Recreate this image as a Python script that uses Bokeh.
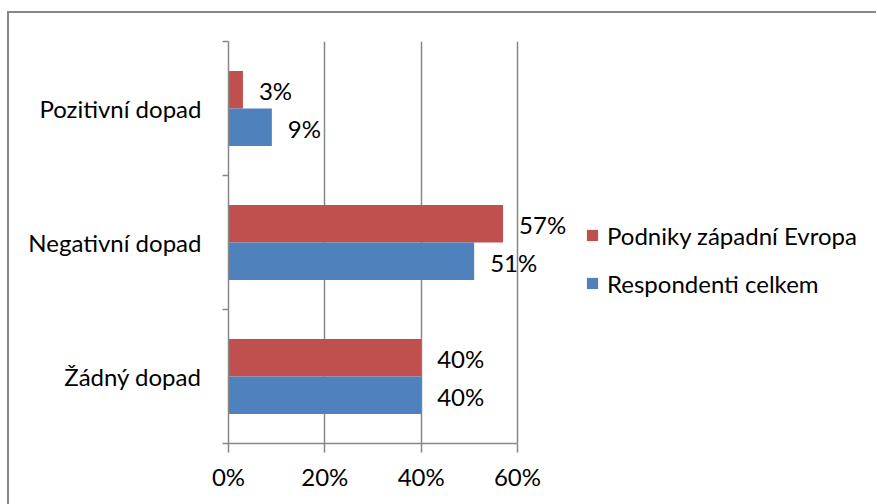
from bokeh.plotting import figure
from bokeh.models import ColumnDataSource, Range1d, FixedTicker, Legend, LegendItem
from bokeh.core.properties import value
from bokeh.embed import file_html
from bokeh.resources import INLINE

# Survey answers (share of respondents, %)
categories = ["Pozitivní dopad", "Negativní dopad", "Žádný dopad"]
podniky_zapadni_evropa = [3, 57, 40]
respondenti_celkem = [9, 51, 40]
series_names = ["Podniky západní Evropa", "Respondenti celkem"]
x_ticks = [0, 20, 40, 60]
x_tick_labels = ["0%", "20%", "40%", "60%"]

RED = "#C0504D"
BLUE = "#4F81BD"
GRID = "#878787"
FONT = "Lato"
FS = "24px"

n = len(categories)
centers = [n - i - 0.5 for i in range(n)]
bar_h = 0.28

# Plot geometry (pixels)
frame_w, frame_h = 648, 402
axis_px = 289  # pixels spanned by 0..60 %
x_max = x_ticks[-1] * frame_w / axis_px

p = figure(
    frame_width=frame_w, frame_height=frame_h,
    min_border_left=219, min_border_top=28, min_border_bottom=61, min_border_right=0,
    x_range=Range1d(0, x_max), y_range=Range1d(0, n),
    output_backend="svg", toolbar_location=None,
)
p.outline_line_color = None
p.background_fill_color = "white"
p.border_fill_color = "white"
p.styles = {
    "margin-left": "7px",
    "margin-top": "11px",
    "border-left": "2px solid #878787",
    "border-top": "2px solid #878787",
}

red_src = ColumnDataSource(dict(
    y=[c + bar_h / 2 for c in centers],
    v=podniky_zapadni_evropa,
    t=[f"{v}%" for v in podniky_zapadni_evropa],
))
blue_src = ColumnDataSource(dict(
    y=[c - bar_h / 2 for c in centers],
    v=respondenti_celkem,
    t=[f"{v}%" for v in respondenti_celkem],
))

r_red = p.hbar(y="y", left=0, right="v", height=bar_h, source=red_src,
               fill_color=RED, line_color=None)
r_blue = p.hbar(y="y", left=0, right="v", height=bar_h, source=blue_src,
                fill_color=BLUE, line_color=None)

for src in (red_src, blue_src):
    p.text(x="v", y="y", text="t", source=src, x_offset=16, y_offset=1,
           text_font=value(FONT), text_font_size=FS, text_color="black",
           text_align="left", text_baseline="middle")

# X axis and vertical gridlines
xa = p.xaxis[0]
xa.ticker = FixedTicker(ticks=x_ticks)
xa.bounds = (x_ticks[0], x_ticks[-1])
xa.major_label_overrides = {t: l for t, l in zip(x_ticks, x_tick_labels)}
xa.axis_line_color = GRID
xa.axis_line_width = 1.5
xa.major_tick_line_color = GRID
xa.major_tick_line_width = 1.5
xa.major_tick_in = 0
xa.major_tick_out = 9
xa.minor_tick_line_color = None
xa.major_label_standoff = 9
xa.major_label_text_font = FONT
xa.major_label_text_font_size = FS
xa.major_label_text_color = "black"

p.xgrid.ticker = FixedTicker(ticks=x_ticks)
p.xgrid.grid_line_color = GRID
p.xgrid.grid_line_width = 1.5
p.ygrid.visible = False

# Category axis: labels centred, ticks on the category boundaries
ya = p.yaxis[0]
ya.ticker = FixedTicker(ticks=centers, minor_ticks=list(range(n + 1)))
ya.bounds = (0, n)
ya.major_label_overrides = {c: name for c, name in zip(centers, categories)}
ya.axis_line_color = GRID
ya.axis_line_width = 1.5
ya.major_tick_line_color = None
ya.major_tick_in = 0
ya.major_tick_out = 0
ya.minor_tick_line_color = GRID
ya.minor_tick_line_width = 1.5
ya.minor_tick_in = 0
ya.minor_tick_out = 6
ya.major_label_standoff = 21
ya.major_label_text_font = FONT
ya.major_label_text_font_size = FS
ya.major_label_text_color = "black"

legend = Legend(
    items=[LegendItem(label=series_names[0], renderers=[r_red]),
           LegendItem(label=series_names[1], renderers=[r_blue])],
    location=(357, 145),
    glyph_width=14, glyph_height=14,
    label_height=30, spacing=18, label_standoff=8,
    padding=0, margin=0,
    border_line_color=None, background_fill_alpha=0,
    label_text_font=FONT, label_text_font_size=FS, label_text_color="black",
)
p.add_layout(legend, "center")

open("out.html", "w").write(file_html(p, INLINE))
